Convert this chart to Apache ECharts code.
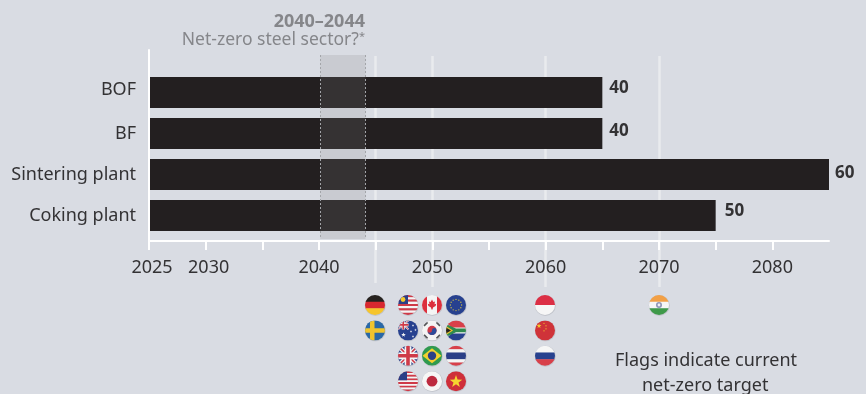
<!DOCTYPE html>
<html>
<head>
<meta charset="utf-8">
<style>
  html, body { margin: 0; padding: 0; background: #d9dce3; }
  #chart { width: 866px; height: 394px; }
</style>
<script src="https://cdn.jsdelivr.net/npm/echarts@6/dist/echarts.min.js"></script>
</head>
<body>
<div id="chart"></div>
<script>
// Remaining lifetime of steel plant types, counted in years from 2025
const plantTypes = ['BOF', 'BF', 'Sintering plant', 'Coking plant'];
const lifetimeYears = [40, 40, 60, 50];

const axisStartYear = 2025;
const axisEndYear = 2085;
const yearTickLabels = [2025, 2030, 2040, 2050, 2060, 2070, 2080];
const guideYears = [2045, 2050, 2060, 2070];

const sectorWindowStart = 2040;
const sectorWindowEnd = 2044;

// Countries grouped by their current net-zero target year
const targets2045 = ['de', 'se'];
const targets2050 = ['my', 'ca', 'eu', 'au', 'kr', 'za', 'gb', 'br', 'th', 'us', 'jp', 'vn'];
const targets2060 = ['id', 'cn', 'ru'];
const targets2070 = ['in'];

const FONT = '"Noto Sans", sans-serif';
const INK = '#333234';
const MUTED = '#85868a';
const BG = '#d9dce3';

const rect = (x, y, w, h, fill) => ({ type: 'rect', shape: { x, y, width: w, height: h }, style: { fill } });
const disc = (cx, cy, r, fill) => ({ type: 'circle', shape: { cx, cy, r }, style: { fill } });
const poly = (points, fill) => ({ type: 'polygon', shape: { points }, style: { fill } });
const seg = (x1, y1, x2, y2, stroke, lineWidth) => ({ type: 'line', shape: { x1, y1, x2, y2 }, style: { stroke, lineWidth, fill: null } });

function star(cx, cy, R, fill) {
  const pts = [];
  for (let i = 0; i < 10; i++) {
    const r = i % 2 ? R * 0.4 : R;
    const a = -Math.PI / 2 + i * Math.PI / 5;
    pts.push([cx + r * Math.cos(a), cy + r * Math.sin(a)]);
  }
  return poly(pts, fill);
}

function stripes(colors) {
  const h = 20 / colors.length;
  return colors.map((c, i) => rect(-10, -10 + i * h, 20, h + 0.3, c));
}

function redWhiteBands(n) {
  const out = [];
  const h = 20 / n;
  for (let i = 0; i < n; i++) out.push(rect(-10, -10 + i * h, 20, h + 0.2, i % 2 ? '#f4f4f4' : '#cf3a48'));
  return out;
}

function unionJack(x, y, w, h) {
  const x2 = x + w, y2 = y + h, cx = x + w / 2, cy = y + h / 2;
  return [
    rect(x, y, w, h, '#2b3f87'),
    seg(x, y, x2, y2, '#f4f4f4', h * 0.2),
    seg(x2, y, x, y2, '#f4f4f4', h * 0.2),
    seg(x, y, x2, y2, '#cf3a48', h * 0.08),
    seg(x2, y, x, y2, '#cf3a48', h * 0.08),
    rect(cx - h * 0.17, y, h * 0.34, h, '#f4f4f4'),
    rect(x, cy - h * 0.17, w, h * 0.34, '#f4f4f4'),
    rect(cx - h * 0.09, y, h * 0.18, h, '#cf3a48'),
    rect(x, cy - h * 0.09, w, h * 0.18, '#cf3a48')
  ];
}

const flagArt = {
  de: () => stripes(['#26221f', '#d8282f', '#f6c52c']),
  se: () => [rect(-10, -10, 20, 20, '#2a68a6'), rect(-5, -10, 4.5, 20, '#efc42e'), rect(-10, -2.2, 20, 4.5, '#efc42e')],
  my: () => [...redWhiteBands(9), rect(-10, -10, 10, 9, '#2b3f87'), disc(-5, -5.5, 2.4, '#f3c82e')],
  ca: () => [
    rect(-10, -10, 20, 20, '#f4f4f4'), rect(-10, -10, 5, 20, '#dc2f3d'), rect(5, -10, 5, 20, '#dc2f3d'),
    poly([[0, -5.5], [1.3, -3], [3, -3.6], [2.5, -0.8], [4.3, -1.2], [3.6, 1], [1, 2.5], [0.5, 4.5], [-0.5, 4.5], [-1, 2.5], [-3.6, 1], [-4.3, -1.2], [-2.5, -0.8], [-3, -3.6], [-1.3, -3]], '#dc2f3d')
  ],
  eu: () => {
    const out = [rect(-10, -10, 20, 20, '#27418f')];
    for (let i = 0; i < 12; i++) {
      const a = i * Math.PI / 6;
      out.push(disc(5.6 * Math.cos(a), 5.6 * Math.sin(a), 0.7, '#c9b94a'));
    }
    return out;
  },
  au: () => [
    rect(-10, -10, 20, 20, '#27418f'), ...unionJack(-10, -10, 10.5, 9),
    star(-4.5, 4.5, 2.4, '#f4f4f4'), star(5, -5, 1.3, '#f4f4f4'), star(7.5, -0.5, 1.3, '#f4f4f4'),
    star(3, 1, 1.3, '#f4f4f4'), star(5, 6, 1.3, '#f4f4f4')
  ],
  kr: () => [
    rect(-10, -10, 20, 20, '#f4f4f4'),
    seg(-8, -4.5, -4.5, -8, '#55565a', 1.8), seg(8, 4.5, 4.5, 8, '#55565a', 1.8),
    seg(8, -4.5, 4.5, -8, '#55565a', 1.8), seg(-8, 4.5, -4.5, 8, '#55565a', 1.8),
    disc(0, 0, 4.6, '#cf3a48'),
    { type: 'path', shape: { pathData: 'M-4.6 0A2.3 2.3 0 0 0 0 0A2.3 2.3 0 0 1 4.6 0A4.6 4.6 0 0 1 -4.6 0Z' }, style: { fill: '#2b4c9b' } }
  ],
  za: () => [
    rect(-10, -10, 20, 10, '#d8404a'), rect(-10, 0, 20, 10, '#27418f'),
    poly([[-10, -8], [-1, 0], [-10, 8]], '#f4f4f4'),
    rect(-3, -3, 13, 6, '#f4f4f4'),
    poly([[-10, -6.5], [0, -1.8], [10, -1.8], [10, 1.8], [0, 1.8], [-10, 6.5]], '#2f8a4f'),
    poly([[-10, -4.5], [-3, 0], [-10, 4.5]], '#efc42e'),
    poly([[-10, -3], [-5, 0], [-10, 3]], '#26221f')
  ],
  gb: () => unionJack(-10, -10, 20, 20),
  br: () => [
    rect(-10, -10, 20, 20, '#2f9a4f'),
    poly([[-9.5, 0], [0, -7.5], [9.5, 0], [0, 7.5]], '#f3d02e'),
    disc(0, 0, 4.2, '#2b3f87')
  ],
  th: () => stripes(['#d8404a', '#f4f4f4', '#2b3f87', '#2b3f87', '#f4f4f4', '#d8404a']),
  us: () => [...redWhiteBands(11), rect(-10, -10, 9, 9, '#2b3f87')],
  jp: () => [rect(-10, -10, 20, 20, '#f6f6f6'), disc(0, 0, 5.4, '#bd2a3f')],
  vn: () => [rect(-10, -10, 20, 20, '#cf2f3a'), star(0, 0.5, 6.6, '#f6d530')],
  id: () => stripes(['#dc2f45', '#f6f6f6']),
  cn: () => [
    rect(-10, -10, 20, 20, '#cf3339'), star(-6, -4.5, 2.6, '#f3c82e'),
    star(-1, -7, 0.9, '#f3c82e'), star(1, -4.5, 0.9, '#f3c82e'), star(1, -1.5, 0.9, '#f3c82e'), star(-1, 0.5, 0.9, '#f3c82e')
  ],
  ru: () => stripes(['#f6f6f6', '#27418f', '#d8404a']),
  in: () => [...stripes(['#f2a046', '#f6f6f6', '#3f9a4a']), disc(0, 0, 3, '#8f95b5'), disc(0, 0, 1.4, '#f0f0f4')]
};

// Each flag sits below its target year; the 2050 group is laid out three across
const flagEntries = [
  ...targets2045.map((code, i) => [2045, 0, i, code]),
  ...targets2050.map((code, i) => [2050, i % 3 - 1, Math.floor(i / 3), code]),
  ...targets2060.map((code, i) => [2060, 0, i, code]),
  ...targets2070.map((code, i) => [2070, 0, i, code])
];

const renderFlag = (params, api) => {
  const year = api.value(0);
  const column = api.value(1);
  const row = api.value(2);
  const code = flagEntries[params.dataIndex][3];
  const x = Math.floor(api.coord([year, 0])[0]) + column * 24;
  const y = 305 + row * 25.4;
  return {
    type: 'group',
    x, y,
    children: [
      { type: 'circle', shape: { cx: 0.3, cy: 0.4, r: 10.5 }, style: { fill: '#c2c5cc' } },
      {
        type: 'group',
        clipPath: { type: 'circle', shape: { cx: 0, cy: 0, r: 10 } },
        children: flagArt[code]()
      }
    ]
  };
};

const guideSegment = (year, from, to) => [{ xAxis: year, yAxis: from }, { xAxis: year, yAxis: to }];

const barLabelNudges = [[0, -4], [0, -2], [-1, -1], [2, -4]];

// The first two year labels sit a little to the right of their ticks
const yearLabelText = v => {
  if (!yearTickLabels.includes(v)) return '';
  return v <= 2030 ? '{nudged|' + v + '}' : String(v);
};

// "BOF" rides slightly higher than the other row labels
const plantLabelText = v => v === 'BOF' ? '{raised|' + v + '}' : v;

const hiddenYearAxis = gridIndex => ({ gridIndex, type: 'value', min: axisStartYear, max: axisEndYear, show: false, splitLine: { show: false } });
const hiddenDepthAxis = gridIndex => ({ gridIndex, type: 'value', min: 0, max: 232, inverse: true, show: false, splitLine: { show: false } });

const option = {
  animation: false,
  backgroundColor: BG,
  grid: [
    { left: 149, top: 50, width: 680, height: 191 },   // year axis and left rule
    { left: 149, top: 72, width: 680, height: 164 },   // bars
    { left: 149, top: 55, width: 680, height: 232 },   // guides and flags
    { left: 150.2, top: 55, width: 680, height: 232 }  // 2040-2044 window
  ],
  xAxis: [
    {
      gridIndex: 0, type: 'value', min: axisStartYear, max: axisEndYear, interval: 5, z: 6,
      axisLine: { show: true, onZero: false, lineStyle: { color: '#fff', width: 2 } },
      axisTick: { show: true, length: 9, lineStyle: { color: '#fff', width: 2 } },
      splitLine: { show: false },
      axisLabel: {
        show: true, margin: 18, fontFamily: FONT, fontSize: 18, color: INK,
        showMinLabel: true, showMaxLabel: false,
        formatter: yearLabelText,
        rich: { nudged: { fontFamily: FONT, fontSize: 18, color: INK, padding: [0, 0, 0, 6] } }
      }
    },
    { gridIndex: 1, type: 'value', min: 0, max: 60, show: false, splitLine: { show: false } },
    hiddenYearAxis(2),
    hiddenYearAxis(3)
  ],
  yAxis: [
    {
      gridIndex: 0, type: 'value', min: 0, max: 1, z: 6,
      axisLine: { show: true, lineStyle: { color: '#fff', width: 2 } },
      axisTick: { show: false }, axisLabel: { show: false }, splitLine: { show: false }
    },
    {
      gridIndex: 1, type: 'category', data: plantTypes, inverse: true,
      axisLine: { show: false }, axisTick: { show: false },
      axisLabel: {
        margin: 13, fontFamily: FONT, fontSize: 18, color: INK,
        formatter: plantLabelText,
        rich: { raised: { fontFamily: FONT, fontSize: 18, color: INK, padding: [0, 0, 6, 0] } }
      }
    },
    hiddenDepthAxis(2),
    hiddenDepthAxis(3)
  ],
  series: [
    {
      type: 'line', xAxisIndex: 2, yAxisIndex: 2, data: [], z: 1, silent: true,
      markLine: {
        silent: true, symbol: 'none', label: { show: false }, z: 1,
        lineStyle: { color: '#e9ebee', width: 2.5, type: 'solid' },
        data: guideYears.map(y => guideSegment(y, 1, y === 2045 ? 228 : 232))
      }
    },
    {
      type: 'bar', xAxisIndex: 1, yAxisIndex: 1, z: 2, barWidth: 31,
      itemStyle: { color: '#231f20' },
      data: lifetimeYears.map((v, i) => ({
        value: v,
        label: { offset: barLabelNudges[i] }
      })),
      label: {
        show: true, position: 'right', distance: 7,
        fontFamily: FONT, fontSize: 17, fontWeight: 'bold', color: INK
      }
    },
    {
      type: 'line', xAxisIndex: 3, yAxisIndex: 3, data: [], z: 3, silent: true,
      markArea: {
        silent: true, z: 3,
        itemStyle: { color: 'rgba(131,131,133,0.19)' },
        data: [[{ xAxis: sectorWindowStart, yAxis: 0 }, { xAxis: sectorWindowEnd, yAxis: 184 }]]
      },
      markLine: {
        silent: true, symbol: 'none', label: { show: false }, z: 4,
        lineStyle: { color: '#a3a5a9', width: 1, type: [2, 2] },
        data: [guideSegment(sectorWindowStart, 0, 184), guideSegment(sectorWindowEnd, 0, 184)]
      }
    },
    {
      type: 'custom', xAxisIndex: 2, yAxisIndex: 2, z: 5, silent: true, clip: false,
      data: flagEntries.map(e => e.slice(0, 3)),
      renderItem: renderFlag
    }
  ],
  graphic: [
    { type: 'text', x: 365, y: 13, style: { text: '2040–2044', font: 'bold 18px ' + FONT, fill: MUTED, textAlign: 'right' } },
    {
      type: 'text', x: 365, y: 31,
      style: {
        text: 'Net-zero steel sector?{sup|*}',
        font: '17.5px ' + FONT, fill: MUTED, textAlign: 'right',
        rich: { sup: { font: '11px ' + FONT, fill: MUTED, verticalAlign: 'top', padding: [0, 0, 5, 0] } }
      }
    },
    { type: 'text', x: 615, y: 352, style: { text: 'Flags indicate current', font: '18px ' + FONT, fill: INK } },
    { type: 'text', x: 642, y: 377, style: { text: 'net-zero target', font: '18px ' + FONT, fill: INK } }
  ]
};

echarts.init(document.getElementById('chart'), null, { renderer: 'canvas' }).setOption(option);
</script>
</body>
</html>
